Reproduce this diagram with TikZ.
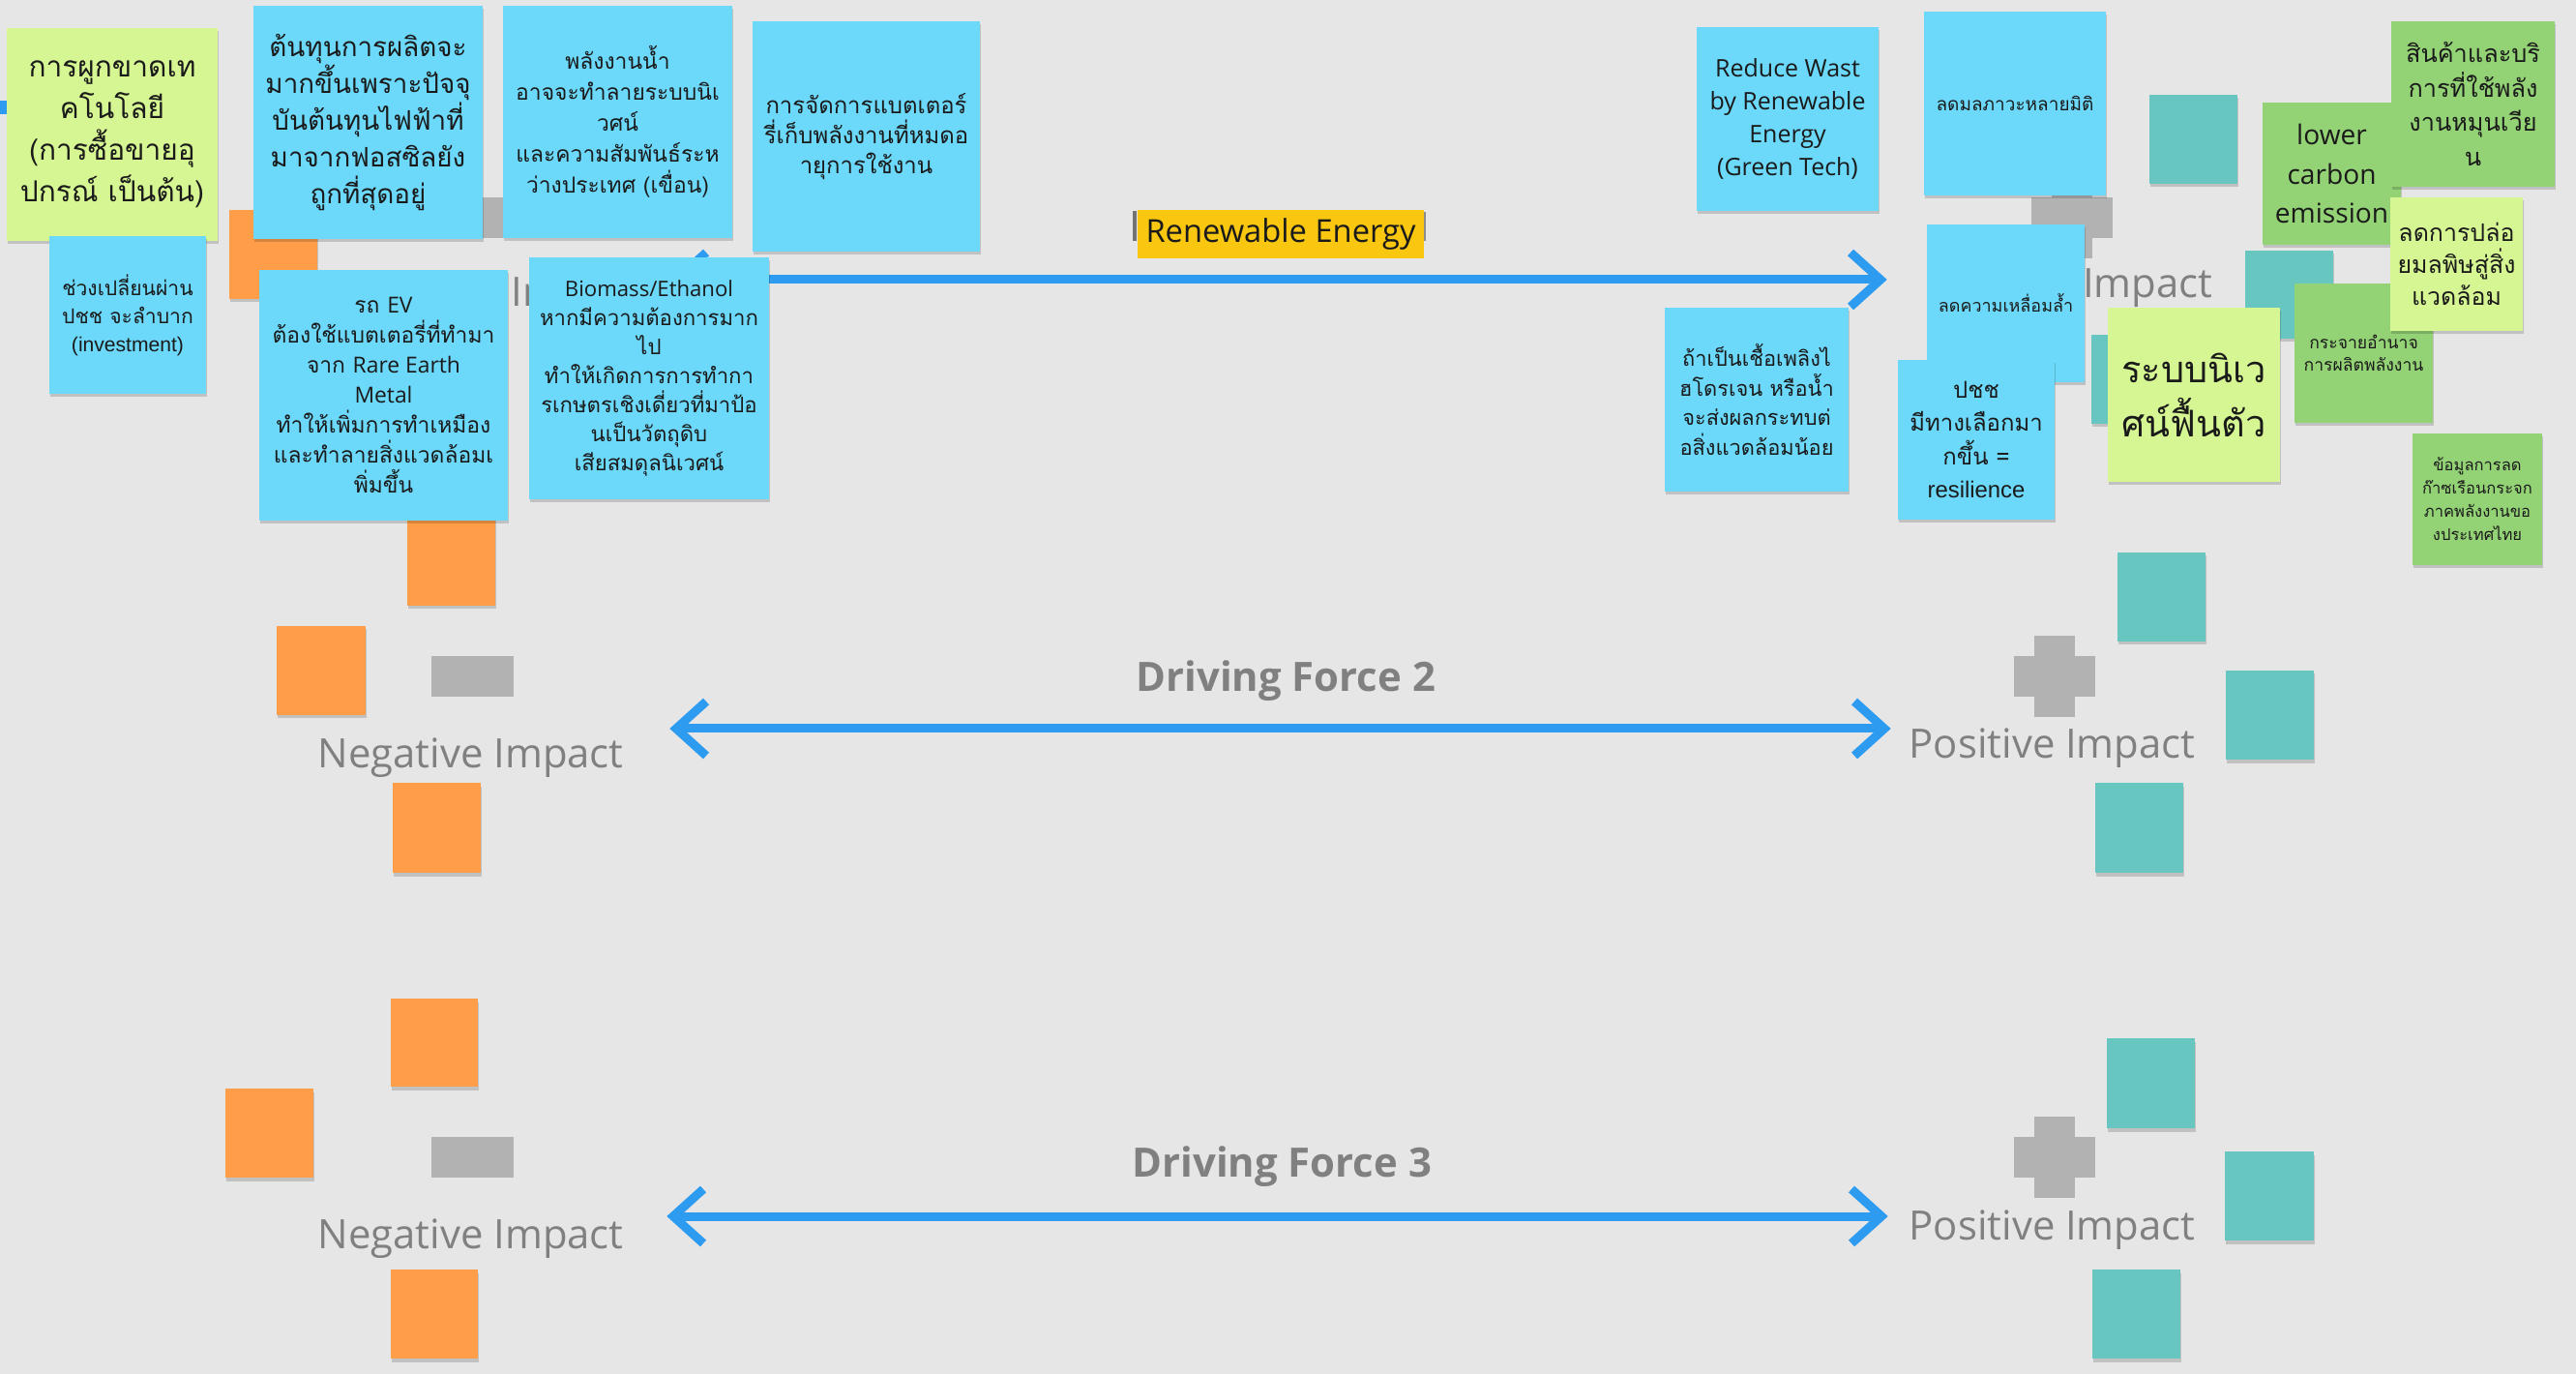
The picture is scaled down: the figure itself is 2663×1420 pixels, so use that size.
\documentclass[tikz,border=0pt]{standalone}
\usepackage{fontspec}
\usetikzlibrary{shadows,calc}
\newfontfamily\thai[Script=Thai]{Loma}
\newfontfamily\os{Open Sans}
\newfontfamily\ls{Liberation Sans}
\definecolor{bg}{HTML}{E6E6E6}
\definecolor{ncyan}{HTML}{6CD8FA}
\definecolor{nlime}{HTML}{D5F692}
\definecolor{ngreen}{HTML}{93D275}
\definecolor{norange}{HTML}{FF9D48}
\definecolor{nteal}{HTML}{67C6C0}
\definecolor{ngray}{HTML}{B2B2B2}
\definecolor{nyellow}{HTML}{FAC710}
\definecolor{gtxt}{HTML}{808080}
\definecolor{ntxt}{HTML}{1A1A1A}
\definecolor{arrblue}{HTML}{2D9BF0}
\newcommand\fz[2]{\fontsize{#1pt}{#2pt}\selectfont\lineskiplimit=-100pt\relax}
\newcommand\sticky[7]{%
  \node[stk,#6,minimum width={(#4-#2)*0.1mm},minimum height={(#5-#3)*0.1mm}]
    (#1) at ({(#2+#4)/2},{(#3+#5)/2}) {#7};}
\newcommand\minusat[3]{\node[gshape,minimum width=8.5mm,minimum height=4.2mm] (#1) at (#2,#3) {};}
\newcommand\plusat[3]{%
  \node[gshape,minimum width=8.4mm,minimum height=4.2mm] (#1h) at (#2,#3) {};
  \node[gshape,minimum width=4.2mm,minimum height=8.4mm] (#1v) at (#2,#3) {};}
\newcommand\headR[1]{\draw[arrhead] ($(#1)+(-31,-28)$) -- (#1) -- ($(#1)+(-31,28)$);}
\newcommand\headL[1]{\draw[arrhead] ($(#1)+(31,-28)$) -- (#1) -- ($(#1)+(31,28)$);}
\begin{document}
\begin{tikzpicture}[x=0.1mm,y=-0.1mm,
  stk/.style={inner sep=0pt,align=center,text=ntxt,
    drop shadow={shadow xshift=0.12mm,shadow yshift=-0.35mm,opacity=0.16,fill=black}},
  gshape/.style={fill=ngray,inner sep=0pt},
  gtext/.style={inner sep=0pt,text=gtxt,font=\os\fz{11.9}{14}},
  gbold/.style={inner sep=0pt,text=gtxt,font=\os\bfseries\fz{11.9}{14}},
  arrline/.style={draw=arrblue,line width=0.9mm},
  arrhead/.style={draw=arrblue,line width=0.9mm,line join=miter}]
\useasboundingbox (0,0) rectangle (2663,1420);
\fill[bg] (0,0) rectangle (2663,1420);
\fill[arrblue] (0,104) rectangle (8,118);

% ---------- row 1 background items ----------
\begin{scope}
  \clip (525,270) rectangle (547,330);
  \node[gtext,anchor=base west] (neg1) at (346,317) {Negative Impact};
\end{scope}
\node[gtext,anchor=base west] (pos1) at (1991,308) {Positive Impact};
\minusat{m1}{506.5}{225}
\plusat{p1}{2142}{225}
\sticky{o1a}{237}{217}{328}{309}{fill=norange}{}
\sticky{o2a}{421}{534}{512}{626}{fill=norange}{}
\coordinate (a1l) at (699,289);
\coordinate (a1r) at (1944,289);
\draw[arrline] (a1l) -- (a1r);
\headL{a1l}
\headR{a1r}
\sticky{t1a}{2222}{98}{2313}{190}{fill=nteal}{}
\sticky{t1b}{2321}{259}{2412}{350}{fill=nteal}{}
\sticky{t1c}{2162}{346}{2253}{438}{fill=nteal}{}

% ---------- left cluster notes ----------
\sticky{A}{7}{29}{225}{249}{fill=nlime,font=\thai\fz{8.5}{12.2}}{การผูกขาดเท\\คโนโลยี\\(การซื้อขายอุ\\ปกรณ์ เป็นต้น)}
\sticky{B}{51}{244}{213}{407}{fill=ncyan,font=\thai\fz{6}{8.25}}{ช่วงเปลี่ยนผ่าน\\ปชช จะลำบาก\\{\ls (investment)}}
\sticky{C}{262}{6}{499}{247}{fill=ncyan,font=\thai\fz{7.9}{10.8}}{ต้นทุนการผลิตจะ\\มากขึ้นเพราะปัจจุ\\บันต้นทุนไฟฟ้าที่\\มาจากฟอสซิลยัง\\ถูกที่สุดอยู่}
\sticky{E}{520}{6}{757}{246}{fill=ncyan,font=\thai\fz{6.5}{9.1}}{พลังงานน้ำ\\อาจจะทำลายระบบนิเ\\วศน์\\และความสัมพันธ์ระห\\ว่างประเทศ (เขื่อน)}
\sticky{D}{268}{279}{525}{538}{fill=ncyan,font=\thai\fz{6.5}{8.8}}{รถ {\os EV}\\ต้องใช้แบตเตอรี่ที่ทำมา\\จาก {\os Rare Earth}\\{\os Metal}\\ทำให้เพิ่มการทำเหมือง\\และทำลายสิ่งแวดล้อมเ\\พิ่มขึ้น}
\sticky{F}{547}{266}{795}{516}{fill=ncyan,font=\thai\fz{6.3}{8.5}}{{\os Biomass/Ethanol}\\หากมีความต้องการมาก\\ไป\\ทำให้เกิดการการทำกา\\รเกษตรเชิงเดี่ยวที่มาป้อ\\นเป็นวัตถุดิบ\\เสียสมดุลนิเวศน์}
\sticky{G}{778}{22}{1013}{260}{fill=ncyan,font=\thai\fz{6.8}{8.8}}{การจัดการแบตเตอร์\\รี่เก็บพลังงานที่หมดอ\\ายุการใช้งาน}

% ---------- label ----------
\node[fill=nyellow,minimum width=29.6mm,minimum height=5mm,inner sep=0pt,
  font=\os\fz{9.3}{11},text=ntxt] (lab1) at (1324,242) {Renewable Energy};
\fill[black!55] (1171,218) rectangle (1175,249);
\fill[black!45] (1472,219) rectangle (1474,249);

% ---------- right cluster notes ----------
\sticky{H}{1754}{28}{1942}{218}{fill=ncyan,font=\os\fz{7.1}{9.7}}{Reduce Wast\\by Renewable\\Energy\\(Green Tech)}
\sticky{I}{1989}{12}{2177}{202}{fill=ncyan,font=\thai\fz{5.4}{7}}{ลดมลภาวะหลายมิติ}
\sticky{J}{1992}{232}{2155}{395}{fill=ncyan,font=\thai\fz{5.1}{7}}{ลดความเหลื่อมล้ำ}
\sticky{K}{1721}{318}{1911}{508}{fill=ncyan,font=\thai\fz{6.2}{8.8}}{ถ้าเป็นเชื้อเพลิงไ\\ฮโดรเจน หรือน้ำ\\จะส่งผลกระทบต่\\อสิ่งแวดล้อมน้อย}
\sticky{L}{1962}{372}{2124}{537}{fill=ncyan,font=\thai\fz{6.8}{9.7}}{ปชช\\มีทางเลือกมา\\กขึ้น =\\{\ls resilience}}
\sticky{R}{2179}{318}{2357}{498}{fill=nlime,font=\thai\fz{10.8}{15.9}}{ระบบนิเว\\ศน์ฟื้นตัว}
\sticky{M}{2339}{106}{2482}{253}{fill=ngreen,font=\os\fz{8}{11.4}}{lower\\carbon\\emission}
\sticky{N}{2472}{22}{2641}{193}{fill=ngreen,font=\thai\fz{7.2}{10.2}}{สินค้าและบริ\\การที่ใช้พลัง\\งานหมุนเวีย\\น}
\sticky{Q}{2372}{293}{2515}{437}{fill=ngreen,font=\thai\fz{5}{6.5}}{กระจายอำนาจ\\การผลิตพลังงาน}
\sticky{P}{2471}{204}{2608}{342}{fill=nlime,font=\thai\fz{7.1}{9.4}}{ลดการปล่อ\\ยมลพิษสู่สิ่ง\\แวดล้อม}
\sticky{S}{2494}{448}{2628}{584}{fill=ngreen,font=\thai\fz{4.7}{6.8}}{ข้อมูลการลด\\ก๊าซเรือนกระจก\\ภาคพลังงานขอ\\งประเทศไทย}

% ---------- row 2 ----------
\sticky{o2b}{286}{647}{378}{739}{fill=norange}{}
\sticky{o2c}{406}{809}{497}{902}{fill=norange}{}
\minusat{m2}{488.5}{699}
\node[gtext,anchor=base west] (neg2) at (328,793) {Negative Impact};
\node[gbold,anchor=base west] (df2) at (1174,715) {Driving Force 2};
\coordinate (a2l) at (699,753);
\coordinate (a2r) at (1948,753);
\draw[arrline] (a2l) -- (a2r);
\headL{a2l}
\headR{a2r}
\plusat{p2}{2124}{699}
\node[gtext,anchor=base west] (pos2) at (1973,784) {Positive Impact};
\sticky{t2a}{2189}{571}{2280}{663}{fill=nteal}{}
\sticky{t2b}{2301}{693}{2392}{785}{fill=nteal}{}
\sticky{t2c}{2166}{809}{2257}{902}{fill=nteal}{}

% ---------- row 3 ----------
\sticky{o3a}{404}{1032}{494}{1123}{fill=norange}{}
\sticky{o3b}{233}{1125}{324}{1217}{fill=norange}{}
\sticky{o3c}{404}{1312}{494}{1404}{fill=norange}{}
\minusat{m3}{488.5}{1196}
\node[gtext,anchor=base west] (neg3) at (328,1290) {Negative Impact};
\node[gbold,anchor=base west] (df3) at (1170,1216) {Driving Force 3};
\coordinate (a3l) at (696,1257);
\coordinate (a3r) at (1945,1257);
\draw[arrline] (a3l) -- (a3r);
\headL{a3l}
\headR{a3r}
\plusat{p3}{2124}{1196}
\node[gtext,anchor=base west] (pos3) at (1973,1281) {Positive Impact};
\sticky{t3a}{2178}{1073}{2269}{1166}{fill=nteal}{}
\sticky{t3b}{2300}{1190}{2392}{1282}{fill=nteal}{}
\sticky{t3c}{2163}{1312}{2254}{1404}{fill=nteal}{}
\end{tikzpicture}
\end{document}
